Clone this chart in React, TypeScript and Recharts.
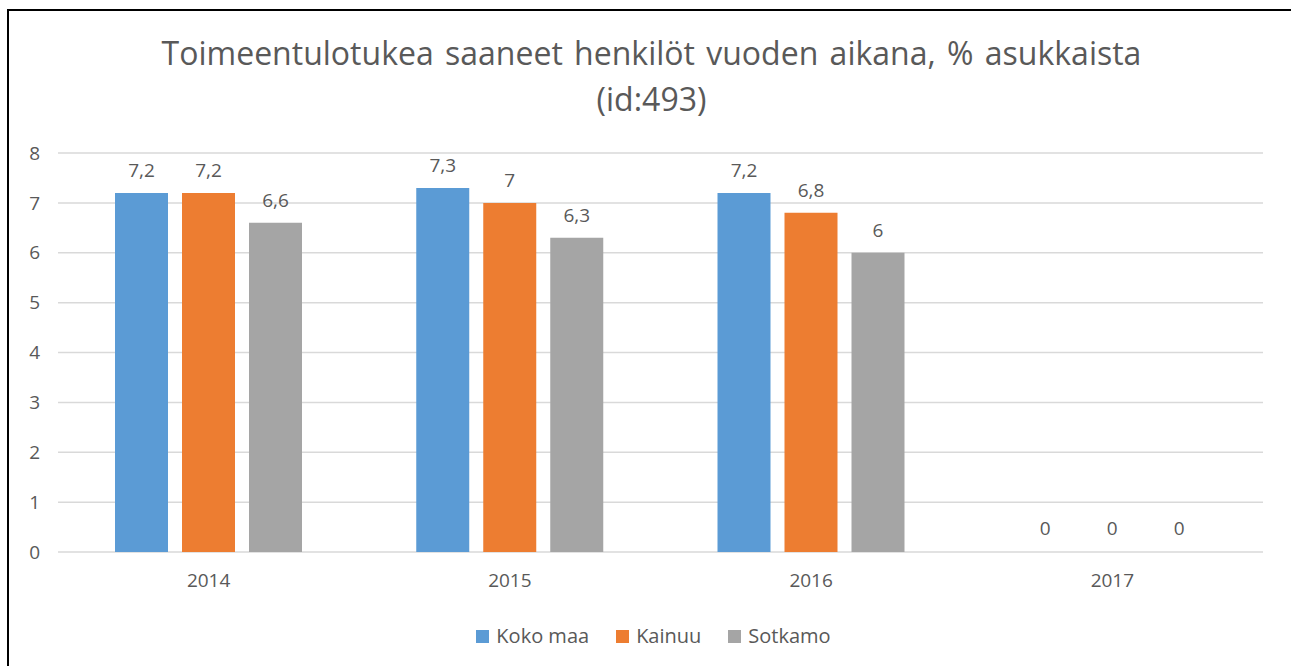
import { BarChart, Bar, XAxis, YAxis, CartesianGrid, LabelList, Cell } from 'recharts';

const years = ['2014', '2015', '2016', '2017'];
const kokoMaa = [7.2, 7.3, 7.2, 0];
const kainuu = [7.2, 7.0, 6.8, 0];
const sotkamo = [6.6, 6.3, 6.0, 0];
const yTicks = [0, 1, 2, 3, 4, 5, 6, 7, 8];

const SERIES = [
    { key: 'kokoMaa', name: 'Koko maa', color: '#5B9BD5' },
    { key: 'kainuu', name: 'Kainuu', color: '#ED7D31' },
    { key: 'sotkamo', name: 'Sotkamo', color: '#A5A5A5' },
];

const data = years.map((year, i) => ({
    year,
    kokoMaa: kokoMaa[i],
    kainuu: kainuu[i],
    sotkamo: sotkamo[i],
}));

const FONT = '"Open Sans", "Noto Sans", sans-serif';
const TEXT = '#595959';

const fmt = (v: any) => String(v).replace('.', ',');

const App = () => {
    return (
        <div style={{ position: 'absolute', left: 0, top: 0, width: 1291, height: 666, background: '#fff' }}>
            <div
                style={{
                    position: 'absolute',
                    left: 7,
                    top: 9,
                    width: 1284,
                    height: 657,
                    borderTop: '2px solid #000',
                    borderLeft: '2px solid #000',
                    boxSizing: 'border-box',
                }}
            />
            <div
                style={{
                    position: 'absolute',
                    left: 0,
                    top: 30,
                    width: 1303,
                    textAlign: 'center',
                    fontFamily: FONT,
                    fontSize: 32,
                    wordSpacing: 3,
                    lineHeight: '46px',
                    color: TEXT,
                }}
            >
                Toimeentulotukea saaneet henkilöt vuoden aikana, % asukkaista
                <br />
                (id:493)
            </div>
            <BarChart
                width={1291}
                height={666}
                data={data}
                margin={{ top: 153, right: 28, bottom: 74, left: 0 }}
                barSize={53}
                barGap={14}
                style={{ position: 'absolute', left: 0, top: 0 }}
            >
                <CartesianGrid vertical={false} stroke="#D9D9D9" strokeWidth={1.5} />
                <XAxis
                    dataKey="year"
                    axisLine={false}
                    tickLine={false}
                    tickMargin={16}
                    tick={{ fill: TEXT, fontSize: 19, fontFamily: FONT }}
                    height={40}
                />
                <YAxis
                    width={58}
                    domain={[0, 8]}
                    ticks={yTicks}
                    axisLine={false}
                    tickLine={false}
                    tickMargin={12}
                    tick={{ fill: TEXT, fontSize: 19, fontFamily: FONT }}
                />
                {SERIES.map((s) => (
                    <Bar
                        key={s.key}
                        dataKey={s.key}
                        name={s.name}
                        fill={s.color}
                        minPointSize={1}
                        isAnimationActive={false}
                    >
                        {data.map((d, i) => (
                            <Cell key={i} fill={(d as any)[s.key] === 0 ? 'none' : s.color} />
                        ))}
                        <LabelList
                            dataKey={s.key}
                            position="top"
                            offset={16}
                            formatter={fmt}
                            style={{ fill: TEXT, fontSize: 19, fontFamily: FONT }}
                        />
                    </Bar>
                ))}
            </BarChart>
            <div
                style={{
                    position: 'absolute',
                    left: 8,
                    top: 622,
                    width: 1291,
                    display: 'flex',
                    justifyContent: 'center',
                    gap: 27,
                    fontFamily: FONT,
                    fontSize: 20,
                    lineHeight: '28px',
                    color: TEXT,
                }}
            >
                {SERIES.map((s) => (
                    <div key={s.key} style={{ display: 'flex', alignItems: 'center' }}>
                        <span style={{ width: 13, height: 13, background: s.color, marginRight: 7, display: 'inline-block' }} />
                        <span>{s.name}</span>
                    </div>
                ))}
            </div>
        </div>
    );
};

export default App;
